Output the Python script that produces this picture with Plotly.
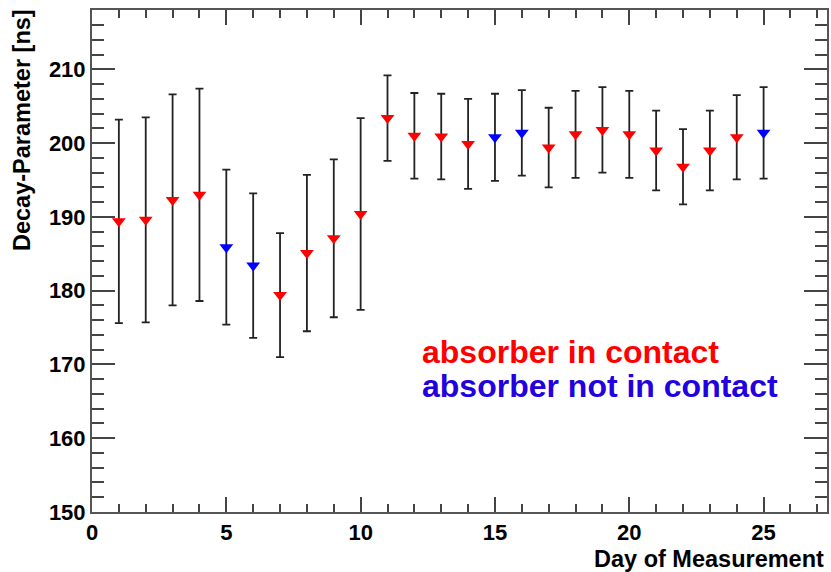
import plotly.graph_objects as go

# ---- data ----
days = list(range(1, 26))
decay = [189.4, 189.6, 192.3, 193.0, 185.9, 183.4, 179.4, 185.1, 187.1, 190.4,
         203.4, 201.0, 200.9, 199.9, 200.8, 201.4, 199.4, 201.2, 201.8, 201.2,
         199.0, 196.8, 199.0, 200.8, 201.4]
errors = [13.8, 13.9, 14.3, 14.4, 10.5, 9.8, 8.4, 10.6, 10.7, 13.0,
          5.8, 5.8, 5.8, 6.1, 5.9, 5.8, 5.4, 5.9, 5.8, 5.9,
          5.4, 5.1, 5.4, 5.7, 6.2]
in_contact = [1, 1, 1, 1, 0, 0, 1, 1, 1, 1,
              1, 1, 1, 1, 0, 0, 1, 1, 1, 1,
              1, 1, 1, 1, 0]
legend_labels = ["absorber in contact", "absorber not in contact"]
y_ticks = [150, 160, 170, 180, 190, 200, 210]
x_ticks = [0, 5, 10, 15, 20, 25]
x_title = "Day of Measurement"
y_title = "Decay-Parameter [ns]"

FONT = "Liberation Sans, Arial, Helvetica, sans-serif"
RED = "#ff0000"
BLUE = "#0000ff"
BLUE_TXT = "#2200e0"

fig = go.Figure()
for flag, col in [(1, RED), (0, BLUE)]:
    xs = [d for d, f in zip(days, in_contact) if f == flag]
    ys = [v for v, f in zip(decay, in_contact) if f == flag]
    es = [e for e, f in zip(errors, in_contact) if f == flag]
    fig.add_trace(go.Scatter(
        x=xs, y=ys, mode="markers",
        marker=dict(symbol="triangle-down", size=12, color=col, line=dict(width=0)),
        error_y=dict(type="data", array=es, visible=True, color="#222222",
                     thickness=1.8, width=4),
        showlegend=False, cliponaxis=False,
    ))

fig.add_annotation(x=12.2, y=171.7, xref="x", yref="y", text="<b>%s</b>" % legend_labels[0],
                   showarrow=False, xanchor="left", yanchor="middle",
                   font=dict(family=FONT, size=32, color=RED))
fig.add_annotation(x=12.2, y=167.1, xref="x", yref="y", text="<b>%s</b>" % legend_labels[1],
                   showarrow=False, xanchor="left", yanchor="middle",
                   font=dict(family=FONT, size=32, color=BLUE_TXT))

# axis titles
fig.add_annotation(x=0, y=1, xref="paper", yref="paper", text="<b>%s</b>" % y_title,
                   textangle=-90, showarrow=False, xanchor="center", yanchor="top",
                   xshift=-70, yshift=3,
                   font=dict(family=FONT, size=23.5, color="black"))
fig.add_annotation(x=1, y=0, xref="paper", yref="paper", text="<b>%s</b>" % x_title,
                   showarrow=False, xanchor="right", yanchor="top",
                   xshift=-1, yshift=-32,
                   font=dict(family=FONT, size=23.5, color="black"))

axis_common = dict(showline=True, linecolor="#555555", linewidth=2, mirror="ticks",
                   ticks="inside", tickcolor="#444444", tickwidth=2,
                   showgrid=False, zeroline=False,
                   tickfont=dict(family=FONT, size=22, color="black"))

fig.update_xaxes(range=[0, 27.36], tickvals=x_ticks,
                 ticktext=["<b>%d</b>" % t for t in x_ticks], ticklen=15,
                 minor=dict(ticks="inside", dtick=1, ticklen=8, tickcolor="#444444",
                            tickwidth=2, showgrid=False),
                 **axis_common)
fig.update_yaxes(range=[150, 218.05], tickvals=y_ticks,
                 ticktext=["<b>%d</b>" % t for t in y_ticks], ticklen=23,
                 minor=dict(ticks="inside", dtick=2, ticklen=12, tickcolor="#444444",
                            tickwidth=2, showgrid=False),
                 **axis_common)

fig.update_layout(width=831, height=572, margin=dict(l=92, r=2, t=10, b=60),
                  paper_bgcolor="white", plot_bgcolor="white",
                  font=dict(family=FONT))

fig.write_html("out.html", config={"displayModeBar": False},
               post_script="document.body.style.margin='0';document.body.style.overflow='hidden';")
